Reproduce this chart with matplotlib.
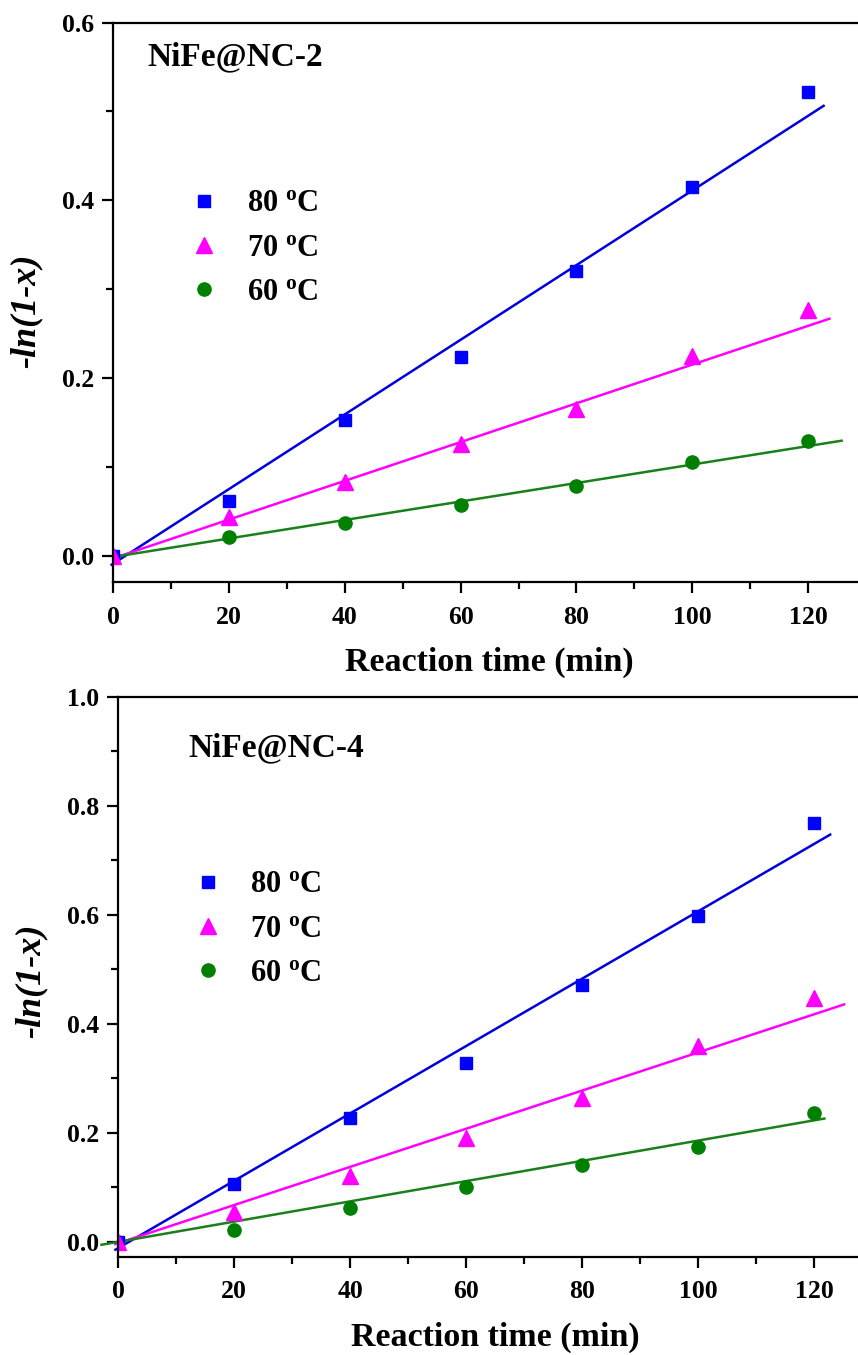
import matplotlib
matplotlib.use("Agg")
import matplotlib.pyplot as plt
import numpy as np

plt.rcParams['font.family'] = ['Liberation Serif', 'DejaVu Serif']
plt.rcParams['font.weight'] = 'bold'
plt.rcParams['mathtext.fontset'] = 'custom'
plt.rcParams['mathtext.rm'] = 'Liberation Serif:bold'
plt.rcParams['mathtext.bf'] = 'Liberation Serif:bold'
plt.rcParams['mathtext.it'] = 'Liberation Serif:bold:italic'

# reaction time (min)
t = [0, 20, 40, 60, 80, 100, 120]
labels = ['80 $^{\\mathbf{o}}$C', '70 $^{\\mathbf{o}}$C', '60 $^{\\mathbf{o}}$C']

# NiFe@NC-2, -ln(1-x)
nc2_80 = [0.0, 0.062, 0.153, 0.2235, 0.3207, 0.4155, 0.5217]
nc2_70 = [0.0, 0.043, 0.0824, 0.1257, 0.1646, 0.2243, 0.2768]
nc2_60 = [0.0, 0.0206, 0.0363, 0.057, 0.078, 0.1054, 0.1286]
# fitted lines: (slope, intercept, t_start, t_end)
nc2_fit_80 = (0.00420, -0.009, -0.3, 122.7)
nc2_fit_70 = (0.00218, -0.003, 0.0, 123.7)
nc2_fit_60 = (0.00104, -0.0015, 0.0, 125.8)

# NiFe@NC-4, -ln(1-x)
nc4_80 = [0.0, 0.1053, 0.2275, 0.3284, 0.471, 0.5976, 0.769]
nc4_70 = [0.0, 0.055, 0.1206, 0.1897, 0.264, 0.358, 0.4477]
nc4_60 = [0.0, 0.021, 0.0624, 0.1004, 0.140, 0.1743, 0.236]
nc4_fit_80 = (0.00618, -0.012, -0.5, 122.8)
nc4_fit_70 = (0.00350, -0.003, -0.5, 125.2)
nc4_fit_60 = (0.001858, -0.0006, -2.9, 121.8)

colors = ['#0000FF', '#FF00FF', '#008000']
line_colors = ['#0000DD', '#FF00FF', '#1A801A']
markers = ['s', '^', 'o']
msizes = [9, 11, 9.5]
zorders = [3.1, 3.2, 3.0]

fig = plt.figure(figsize=(8.58, 13.55), dpi=100)
ax1 = fig.add_axes([0.1321, 0.5703, 0.8771, 0.4130])
ax2 = fig.add_axes([0.1379, 0.0725, 0.8783, 0.4133])


def draw(ax, series, fits, title, title_xy, ylim, ymajor, leg_anchor, ylab_y):
    handles = []
    for ys, fit, c, lc, m, ms, z, lab in zip(series, fits, colors, line_colors, markers,
                                             msizes, zorders, labels):
        k, b, x0, x1 = fit
        xx = np.array([x0, x1])
        ax.plot(xx, k * xx + b, color=lc, lw=1.8, clip_on=False, zorder=2)
        h, = ax.plot(t, ys, ls='none', marker=m, ms=ms, color=c, mec=c, label=lab,
                     zorder=z)
        handles.append(h)
    ax.set_xlim(0, 130)
    ax.set_ylim(*ylim)
    ax.set_xticks(np.arange(0, 121, 20))
    ax.set_xticks(np.arange(10, 121, 20), minor=True)
    ax.set_yticks(np.arange(0, ylim[1] + 1e-9, ymajor))
    ax.set_yticks(np.arange(ymajor / 2, ylim[1], ymajor), minor=True)
    ax.yaxis.set_major_formatter(matplotlib.ticker.FormatStrFormatter('%.1f'))
    for s in ['left', 'bottom', 'top']:
        ax.spines[s].set_linewidth(1.6)
        ax.spines[s].set_zorder(4)
    ax.spines['right'].set_visible(False)
    ax.tick_params(which='both', direction='out', top=False, right=False, width=1.6,
                   labelsize=18.5)
    ax.tick_params(axis='x', pad=9)
    ax.tick_params(axis='y', pad=6)
    ax.tick_params(which='major', length=8)
    ax.tick_params(which='minor', length=5)
    ax.set_xlabel('Reaction time (min)', fontsize=24.5, fontweight='bold', labelpad=13)
    ax.set_ylabel('-ln(1-x)', fontsize=26, fontweight='bold', fontstyle='italic')
    ax.yaxis.set_label_coords(-0.094, ylab_y)
    ax.text(title_xy[0], title_xy[1], title, transform=ax.transAxes, fontsize=24,
            fontweight='bold', va='center', ha='left')
    ax.legend(handles=handles, loc='upper left', bbox_to_anchor=leg_anchor, frameon=False,
              fontsize=22, numpoints=1, handlelength=1.0, handletextpad=0.9,
              labelspacing=0.5, borderaxespad=0)


draw(ax1, [nc2_80, nc2_70, nc2_60], [nc2_fit_80, nc2_fit_70, nc2_fit_60],
     'NiFe@NC-2', (0.045, 0.9387), (-0.03, 0.6), 0.2, (0.084, 0.724), 0.485)
draw(ax2, [nc4_80, nc4_70, nc4_60], [nc4_fit_80, nc4_fit_70, nc4_fit_60],
     'NiFe@NC-4', (0.0925, 0.908), (-0.028, 1.0), 0.2, (0.082, 0.712), 0.492)

fig.savefig('out.png', dpi=100)
